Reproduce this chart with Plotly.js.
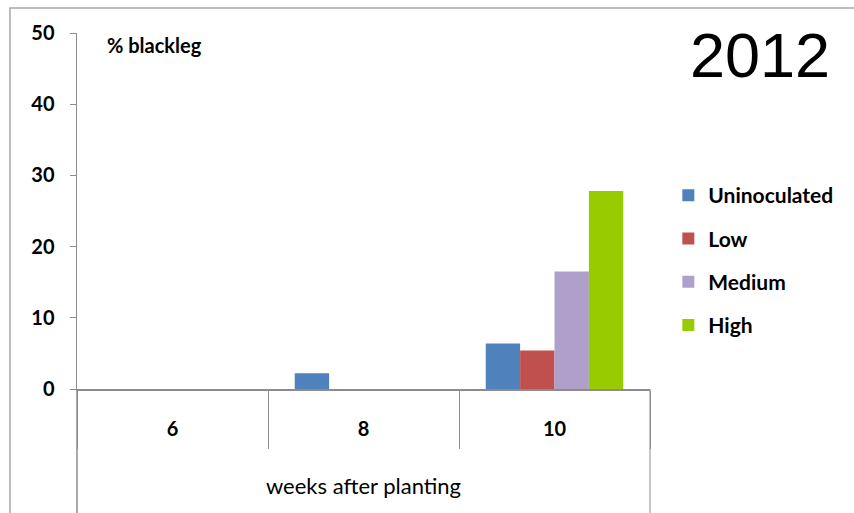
<!DOCTYPE html>
<html>
<head>
<meta charset="utf-8">
<script src="https://cdn.plot.ly/plotly-3.0.1.min.js"></script>
<style>
  html, body { margin: 0; padding: 0; background: #ffffff; }
  #chart { width: 854px; height: 513px; }
</style>
</head>
<body>
<div id="chart"></div>
<script>
// ---- data ----
const weeks = ['6', '8', '10'];
const uninoculated = [0, 2.2, 6.4];
const low = [0, 0, 5.4];
const medium = [0, 0, 16.5];
const high = [0, 0, 27.8];
const seriesNames = ['Uninoculated', 'Low', 'Medium', 'High'];
const yTicks = [0, 10, 20, 30, 40, 50];

const colors = ['#4F81BD', '#C0504D', '#AFA0CB', '#99CC00'];
const values = [uninoculated, low, medium, high];

const FONT = 'Lato, "Open Sans", sans-serif';
const AXIS = '#8c8c8c';

const traces = seriesNames.map((name, i) => ({
  type: 'bar',
  name: name,
  x: weeks,
  y: values[i],
  legendgroup: name,
  marker: { color: colors[i], line: { width: 0 } },
  hoverinfo: 'x+y+name'
}));

const layout = {
  width: 854,
  height: 513,
  margin: { l: 77, r: 204, t: 33, b: 124 },
  paper_bgcolor: '#ffffff',
  plot_bgcolor: '#ffffff',
  barmode: 'group',
  bargap: 0.28,
  bargroupgap: 0,
  showlegend: true,
  title: {
    text: '2012',
    font: { family: '"Liberation Sans", Arial, sans-serif', size: 63, color: '#000000' },
    x: 0.89, xanchor: 'center', xref: 'container',
    y: 0.893, yanchor: 'middle', yref: 'container'
  },
  legend: {
    x: 1.032, xanchor: 'left',
    y: 0.601, yanchor: 'top',
    traceorder: 'grouped',
    tracegroupgap: 13,
    itemwidth: 30,
    font: { family: FONT, size: 21, color: '#000000', weight: 'bold' },
    bgcolor: 'rgba(0,0,0,0)'
  },
  xaxis: {
    type: 'category',
    categoryorder: 'array',
    categoryarray: weeks,
    showline: true,
    linecolor: AXIS,
    linewidth: 1.5,
    showgrid: false,
    zeroline: false,
    ticks: 'outside',
    tickson: 'boundaries',
    ticklen: 58,
    tickcolor: AXIS,
    tickwidth: 1,
    ticklabelstandoff: 21,
    tickfont: { family: FONT, size: 20, color: '#000000', weight: 'bold' },
    title: {
      text: 'weeks after planting',
      font: { family: FONT, size: 22, color: '#000000' },
      standoff: 40
    }
  },
  yaxis: {
    range: [0, 50],
    tickvals: yTicks,
    ticktext: yTicks.map(String),
    showline: true,
    linecolor: AXIS,
    linewidth: 1.5,
    showgrid: false,
    zeroline: false,
    ticks: 'outside',
    ticklen: 6,
    tickcolor: AXIS,
    ticklabelstandoff: 11,
    tickfont: { family: FONT, size: 20, color: '#000000', weight: 'bold' }
  },
  annotations: [{
    text: '% blackleg',
    xref: 'paper', yref: 'paper',
    x: 0.049, y: 0.966,
    xanchor: 'left', yanchor: 'middle',
    showarrow: false,
    font: { family: FONT, size: 20, color: '#000000', weight: 'bold' }
  }],
  shapes: [
    // outer chart frame
    { type: 'rect', xref: 'paper', yref: 'paper', x0: -0.117, x1: 2, y0: -1, y1: 1.07,
      line: { color: '#a6a6a6', width: 1.5 }, layer: 'below' },
    // left and right outer boundaries of category axis
    { type: 'line', xref: 'paper', yref: 'paper', x0: 0, x1: 0, y0: 0, y1: -0.36,
      line: { color: AXIS, width: 1.5 } },
    { type: 'line', xref: 'paper', yref: 'paper', x0: 1, x1: 1, y0: 0, y1: -0.36,
      line: { color: AXIS, width: 1 } }
  ]
};

Plotly.newPlot('chart', traces, layout, { displayModeBar: false, staticPlot: true });
</script>
</body>
</html>
